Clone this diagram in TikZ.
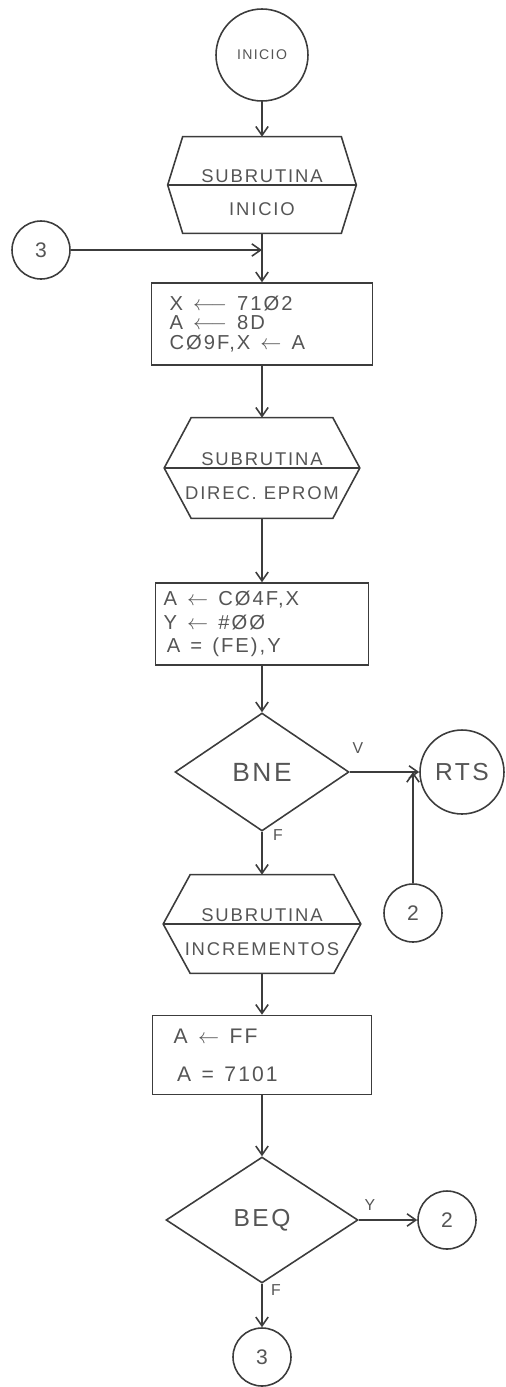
\documentclass[tikz,border=0pt]{standalone}
\usepackage{fontspec}
\setmainfont{Liberation Sans}[LetterSpace=10]
\usetikzlibrary{arrows.meta, shapes.geometric, calc}
\definecolor{ink}{HTML}{3C3C3C}
\definecolor{pencil}{HTML}{555555}

\begin{document}
\begin{tikzpicture}[x=0.02cm, y=-0.02cm,
    every node/.style={text=pencil},
    line/.style={ink, line width=0.9pt},
    flow/.style={line, -{Straight Barb[length=5pt, width=7pt]}},
    term/.style={circle, draw=ink, line width=0.9pt, inner sep=0pt},
    conn/.style={term, minimum size=1.16cm, font=\fontsize{12}{12}\selectfont},
    sub/.style={rectangle, inner sep=0pt},
    subtxt/.style={font=\fontsize{10.5}{10.5}\selectfont, inner sep=0pt},
    proc/.style={rectangle, draw=ink, line width=0.9pt, align=left, inner ysep=0pt},
    test/.style={diamond, draw=ink, line width=0.9pt, inner sep=0pt, font=\fontsize{15}{15}\selectfont},
    lab/.style={font=\fontsize{9}{9}\selectfont, inner sep=1pt},
]
\def\larr{\enspace$\longleftarrow$\enspace}
\def\sarr{\enspace$\leftarrow$\enspace}
\def\eq{\enspace=\enspace}

\useasboundingbox (0,0) rectangle (506,1387);

% main column
\node[term, minimum size=1.84cm, font=\fontsize{8}{8}\selectfont] (start) at (262,55) {INICIO};
\node[sub, minimum width=3.76cm, minimum height=1.92cm] (s1) at (262,185) {};
\node[proc, minimum width=4.42cm, minimum height=1.64cm, text width=3.7cm, inner xsep=0.36cm,
    font=\fontsize{11.5}{11.3}\selectfont] (r1) at (262,324)
    {X\larr 71Ø2\\ A\larr 8D\\ CØ9F,X\sarr A};
\node[sub, minimum width=3.9cm, minimum height=2cm] (s2) at (262,468) {};
\node[proc, minimum width=4.26cm, minimum height=1.64cm, text width=3.94cm, inner xsep=0.16cm,
    font=\fontsize{11.5}{13.3}\selectfont] (r2) at (262,624)
    {A\sarr CØ4F,X\\ Y\sarr \#ØØ\\ \,A\eq (FE),Y};
\node[test, minimum width=3.48cm, minimum height=2.36cm] (d1) at (262,772) {BNE};
\node[sub, minimum width=3.94cm, minimum height=1.96cm] (s3) at (262,924) {};
\node[proc, minimum width=4.38cm, minimum height=1.58cm, text width=3.54cm, inner xsep=0.42cm,
    font=\fontsize{12}{21.5}\selectfont] (r3) at (262,1055)
    {A\sarr FF\\ \,A\eq 7101};
\node[test, minimum width=3.84cm, minimum height=2.52cm, font=\fontsize{14}{14}\selectfont] (d2) at (262,1220) {BEQ};

% hexagons for the subroutine calls
\foreach \h/\c/\a/\b in {s1/15/SUBRUTINA/INICIO, s2/27/SUBRUTINA/DIREC. EPROM, s3/27/SUBRUTINA/INCREMENTOS}{
    \draw[line] ($(\h.north west)+(\c,0)$) -- ($(\h.north east)+(-\c,0)$) -- (\h.east)
        -- ($(\h.south east)+(-\c,0)$) -- ($(\h.south west)+(\c,0)$) -- (\h.west) -- cycle;
    \draw[line] (\h.west) -- (\h.east);
    \node[subtxt, anchor=base] (\h-a) at ($(\h.center)+(0,-3)$) {\a};
    \node[subtxt] (\h-b) at ($(\h.center)!0.5!(\h.south)$) {\b};
}

\foreach \a/\b in {start/s1, s1/r1, r1/s2, s2/r2, r2/d1, d1/s3, s3/r3, r3/d2}
    \draw[flow] (\a) -- (\b);

% connector 3 coming back in
\node[conn] (c3in) at (41,250) {3};
\coordinate (j3) at (s1.south |- c3in.east);
\draw[flow] (c3in) -- (j3);

% BNE branch
\node[term, minimum size=1.68cm, font=\fontsize{14}{14}\selectfont] (rts) at (462,772) {RTS};
\draw[flow] (d1) -- (rts);
\node[conn] (c2a) at (413,913) {2};
\coordinate (j2) at (c2a.north |- d1.east);
\draw[flow] (c2a) -- (j2);
\node[lab] (v1) at (358,748) {V};
\node[lab] (f1) at (278,835) {F};

% BEQ branch
\node[conn] (c2b) at (447,1220) {2};
\draw[flow] (d2) -- (c2b);
\node[conn] (c3out) at (262,1357) {3};
\draw[flow] (d2) -- (c3out);
\node[lab] (y2) at (370,1205) {Y};
\node[lab] (f2) at (276,1290) {F};

\end{tikzpicture}
\end{document}
